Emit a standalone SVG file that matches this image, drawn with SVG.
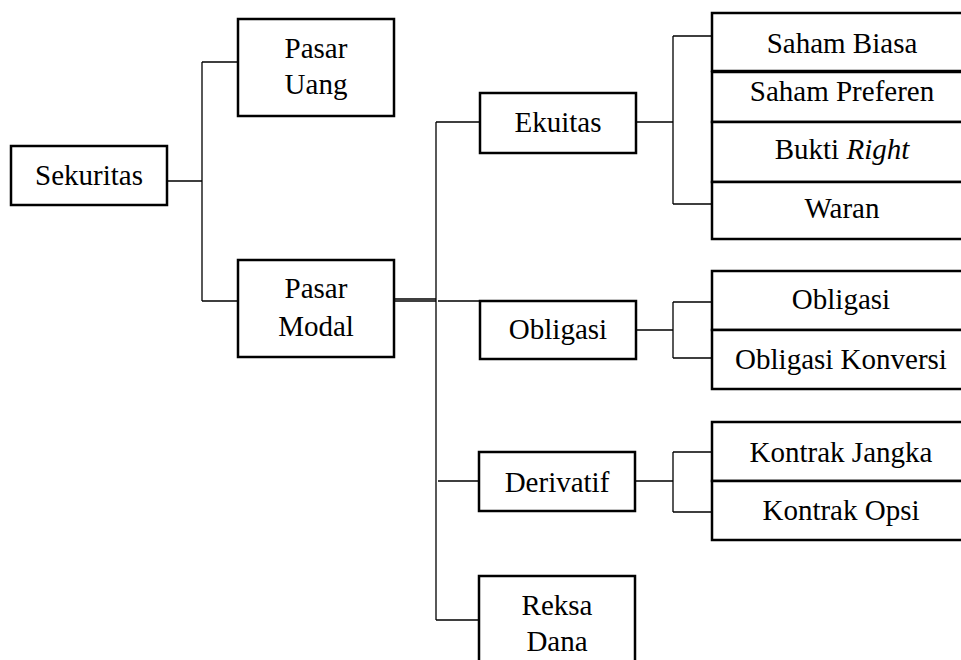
<svg xmlns="http://www.w3.org/2000/svg" width="961" height="660" viewBox="0 0 961 660">
<style>
  .box { fill: #fff; stroke: #000; stroke-width: 2.5; }
  .ln { fill: none; stroke: #000; stroke-width: 1.3; }
  text { font-family: "Liberation Serif", "Times New Roman", serif; font-size: 29px; fill: #000; text-anchor: middle; }
</style>
<rect width="961" height="660" fill="#fff"/>
<g id="connectors">
  <path class="ln" d="M167,181 H202 M202,62 V301 M202,62 H238 M202,301 H238"/>
  <path class="ln" d="M394,299 H436 M394,301 H436 M436,122 V620 M436,122 H480 M438,301 H480 M438,481 H479 M436,620 H479"/>
  <path class="ln" d="M636,122 H673 M673,36 V204 M673,36 H712 M673,204 H712"/>
  <path class="ln" d="M636,330 H673 M673,302 V358 M673,302 H712 M673,358 H712"/>
  <path class="ln" d="M635,481 H673 M673,452 V512 M673,452 H712 M673,512 H712"/>
</g>
<g id="sekuritas"><rect class="box" x="11" y="146" width="156" height="59"/><text x="89" y="185">Sekuritas</text></g>
<g id="pasar-uang"><rect class="box" x="238" y="19" width="156" height="97"/><text x="316" y="58">Pasar</text><text x="316" y="94">Uang</text></g>
<g id="pasar-modal"><rect class="box" x="238" y="260" width="156" height="97"/><text x="316" y="298">Pasar</text><text x="316" y="336">Modal</text></g>
<g id="ekuitas"><rect class="box" x="480" y="93" width="156" height="60"/><text x="558" y="132">Ekuitas</text></g>
<g id="obligasi"><rect class="box" x="480" y="301" width="156" height="58"/><text x="558" y="339">Obligasi</text></g>
<g id="derivatif"><rect class="box" x="479" y="452" width="156" height="59"/><text x="557" y="492">Derivatif</text></g>
<g id="reksa-dana"><rect class="box" x="479" y="576" width="156" height="100"/><text x="557" y="615">Reksa</text><text x="557" y="651">Dana</text></g>
<g id="saham-biasa"><rect class="box" x="712" y="13" width="260" height="58"/><text x="842" y="53">Saham Biasa</text></g>
<g id="saham-preferen"><rect class="box" x="712" y="72" width="260" height="50"/><text x="842" y="101">Saham Preferen</text></g>
<g id="bukti-right"><rect class="box" x="712" y="122" width="260" height="60"/><text x="842" y="159">Bukti <tspan font-style="italic">Right</tspan></text></g>
<g id="waran"><rect class="box" x="712" y="182" width="260" height="57"/><text x="842" y="218">Waran</text></g>
<g id="obligasi-item"><rect class="box" x="712" y="271" width="260" height="59"/><text x="841" y="309">Obligasi</text></g>
<g id="obligasi-konversi"><rect class="box" x="712" y="330" width="260" height="59"/><text x="841" y="369">Obligasi Konversi</text></g>
<g id="kontrak-jangka"><rect class="box" x="712" y="422" width="260" height="59"/><text x="841" y="462">Kontrak Jangka</text></g>
<g id="kontrak-opsi"><rect class="box" x="712" y="481" width="260" height="59"/><text x="841" y="520">Kontrak Opsi</text></g>
</svg>
